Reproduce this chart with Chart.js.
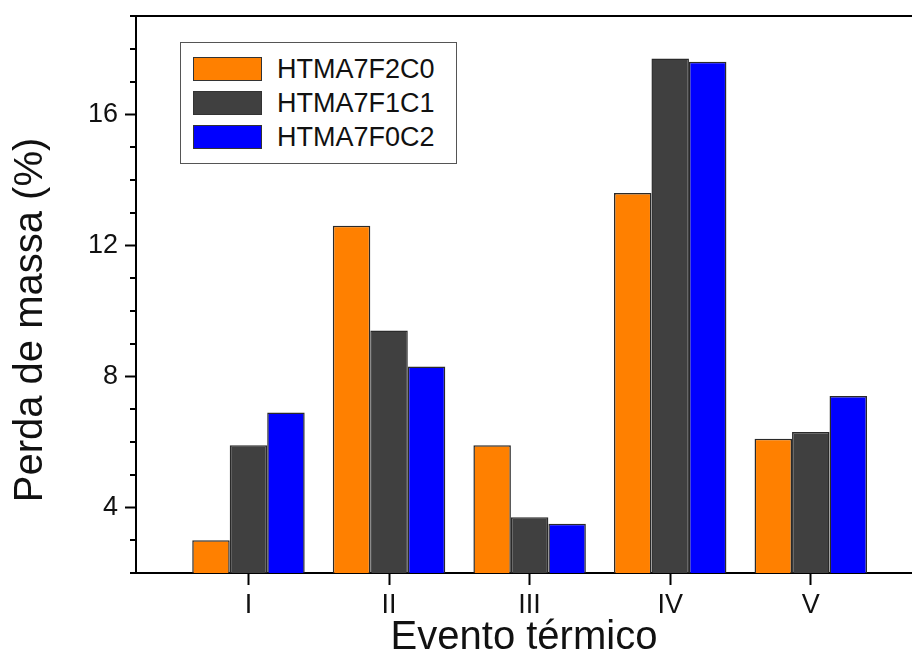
<!DOCTYPE html>
<html>
<head>
<meta charset="utf-8">
<title>Perda de massa</title>
<script src="https://cdn.jsdelivr.net/npm/chart.js@4.4.1/dist/chart.umd.min.js"></script>
<style>
    body{margin:0;background:#fff;overflow:hidden;}
    #wrap{position:relative;width:912px;height:662px;}
    #legend{position:absolute;left:180px;top:42px;width:275px;height:120px;border:1.5px solid #555;background:#fff;
        font-family:"Liberation Sans",Arial,sans-serif;font-size:27px;color:#111;}
    .item{position:absolute;left:12px;height:24px;display:flex;align-items:center;}
    .sw{width:67px;height:22px;border:1.5px solid #333;margin-right:15px;}
</style>
</head>
<body>
<div id="wrap">
    <canvas id="chart" width="912" height="662"></canvas>
    <div id="legend"></div>
</div>
<script>
// ------------------ DATA ------------------
const categories = ["I","II","III","IV","V"];
const seriesNames = ["HTMA7F2C0","HTMA7F1C1","HTMA7F0C2"];
const f2c0 = [3.0, 12.6, 5.9, 13.6, 6.1];
const f1c1 = [5.9, 9.4, 3.7, 17.7, 6.3];
const f0c2 = [6.9, 8.3, 3.5, 17.6, 7.4];
const yTicks = [4, 8, 12, 16];

const colors = ["#ff8000","#404040","#0000ff"];
const FONT = "'Liberation Sans', Arial, sans-serif";

function points(vals){
    return vals.map((v,i)=>({x:i+1, y:v}));
}

// ------------------ MINOR TICKS, TOP LINE, Y TITLE ------------------
const framePlugin = {
    id:"frame",
    afterDraw(chart){
        const ctx = chart.ctx;
        const y = chart.scales.y;
        const area = chart.chartArea;
        ctx.save();
        ctx.strokeStyle = "#000";
        ctx.lineWidth = 2;
        ctx.beginPath();
        for(let v=Math.ceil(y.min); v<=y.max; v++){
            if(yTicks.includes(v)) continue;
            const py = Math.round(y.getPixelForValue(v));
            ctx.moveTo(area.left-6, py);
            ctx.lineTo(area.left, py);
        }
        ctx.moveTo(area.left-1, area.top);
        ctx.lineTo(chart.width, area.top);
        ctx.stroke();

        // y title sits a bit below the axis middle in the original
        const t = y.options.title;
        ctx.translate(31, 320);
        ctx.rotate(-Math.PI/2);
        ctx.fillStyle = t.color;
        ctx.font = `${t.font.size}px ${FONT}`;
        ctx.textAlign = "center";
        ctx.textBaseline = "middle";
        ctx.fillText(t.text, 0, 0);
        ctx.restore();
    }
};

// ------------------ CHART ------------------
const chart = new Chart(document.getElementById("chart"),{
    type:"bar",
    data:{
        datasets:[
            {label:seriesNames[0], data:points(f2c0), backgroundColor:colors[0]},
            {label:seriesNames[1], data:points(f1c1), backgroundColor:colors[1]},
            {label:seriesNames[2], data:points(f0c2), backgroundColor:colors[2]}
        ]
    },
    options:{
        responsive:false,
        animation:false,
        layout:{padding:0},
        datasets:{bar:{categoryPercentage:0.8, barPercentage:1, borderWidth:1.5, borderColor:"#2a2a2a"}},
        plugins:{legend:{display:false}, tooltip:{enabled:false}},
        scales:{
            x:{
                type:"linear",
                min:0.2, max:5.72,
                offset:false,
                afterFit:s=>{ s.height = 89; },
                border:{display:true, color:"#000", width:2},
                grid:{display:true, offset:false, drawOnChartArea:false, drawTicks:true, tickLength:12, tickWidth:2, tickColor:"#000"},
                ticks:{stepSize:1, includeBounds:false, padding:4, color:"#111", font:{family:FONT, size:27},
                    callback:v=>categories[v-1] || ""},
                title:{display:true, text:"Evento térmico", color:"#111", font:{family:FONT, size:40}, padding:{top:0,bottom:0}}
            },
            y:{
                min:2, max:19,
                afterFit:s=>{ s.width = 136; s.paddingTop = 16; s.paddingBottom = 0; },
                border:{display:true, color:"#000", width:2},
                grid:{display:true, drawOnChartArea:false, drawTicks:true, tickLength:11, tickWidth:2, tickColor:"#000"},
                ticks:{stepSize:4, includeBounds:false, padding:7, color:"#111", font:{family:FONT, size:27}},
                title:{display:false, text:"Perda de massa (%)", color:"#111", font:{family:FONT, size:40}}
            }
        }
    },
    plugins:[framePlugin]
});

// ------------------ LEGEND ------------------
const legend = document.getElementById("legend");
chart.data.datasets.forEach((ds,i)=>{
    const item = document.createElement("div");
    item.className = "item";
    item.style.top = (14 + i*34) + "px";
    item.innerHTML = `<span class="sw" style="background:${ds.backgroundColor}"></span>${ds.label}`;
    legend.appendChild(item);
});
</script>
</body>
</html>
